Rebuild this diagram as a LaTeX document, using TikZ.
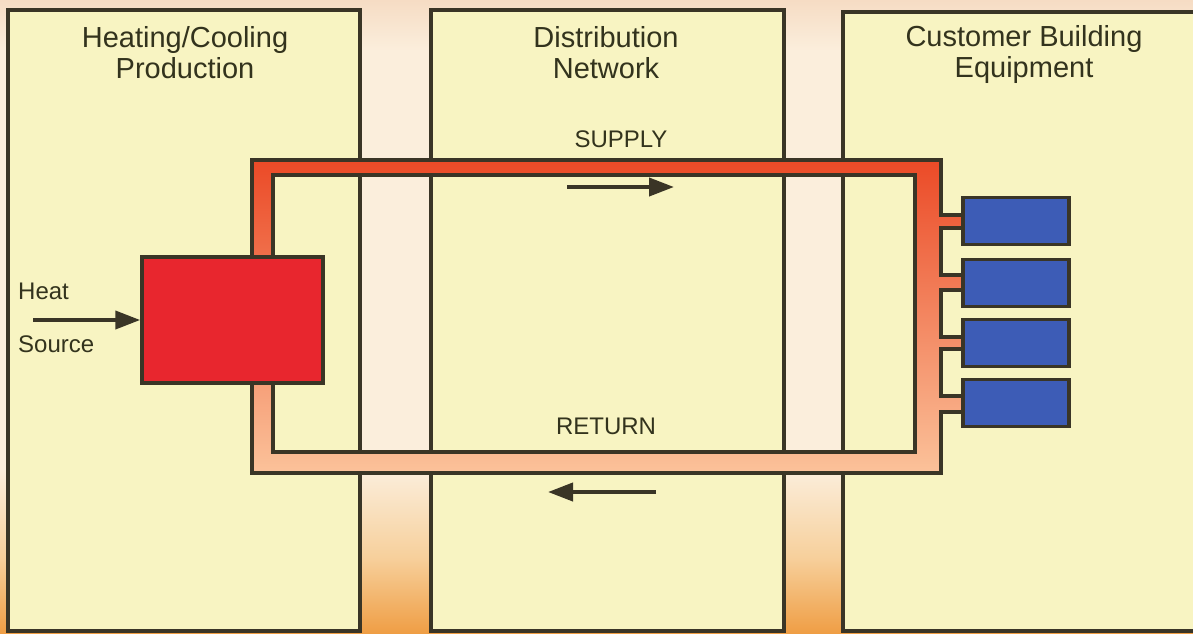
\documentclass[tikz,border=0pt]{standalone}
\usepackage{fontspec}
\setmainfont{Liberation Sans}
\usetikzlibrary{arrows.meta}
\definecolor{panelfill}{HTML}{F8F4C2}
\definecolor{edge}{HTML}{3A3526}
\definecolor{txt}{HTML}{33331D}
\definecolor{gaptop}{HTML}{F6DCC4}
\definecolor{gapmid}{HTML}{FBEEDC}
\definecolor{gaplow}{HTML}{F7D09C}
\definecolor{gapbot}{HTML}{EF9E45}
\definecolor{hotpipe}{HTML}{EB4A27}
\definecolor{coldpipe}{HTML}{FBC29A}
\definecolor{plantred}{HTML}{E8262E}
\definecolor{unitblue}{HTML}{3D5CB6}
\pgfdeclareverticalshading{gapshade}{100bp}{color(0bp)=(gapbot); color(25bp)=(gapbot); color(31bp)=(gaplow); color(38bp)=(gapmid); color(71bp)=(gapmid); color(75bp)=(gaptop); color(100bp)=(gaptop)}
\begin{document}
\begin{tikzpicture}[x=1pt,y=-1pt,
  panel/.style={draw=edge, line width=3.5pt, fill=panelfill},
  title/.style={text=txt, align=center, font=\fontsize{29}{31}\selectfont, inner sep=0pt},
  label/.style={text=txt, font=\fontsize{24}{26}\selectfont, inner sep=0pt},
  plant/.style={draw=edge, line width=3.5pt, fill=plantred, inner sep=0pt, minimum width=181pt, minimum height=126pt},
  unit/.style={draw=edge, line width=3.5pt, fill=unitblue, inner sep=0pt, minimum width=106pt, minimum height=47pt},
  flow/.style={draw=edge, line width=4pt, -{Triangle[length=25pt,width=18pt]}},
  pipeline/.style={draw=edge, line width=3.5pt, line join=miter}]
% background
\shade[shading=gapshade] (0,0) rectangle (1193,633);
\useasboundingbox (0,0) rectangle (1193,633);
% panels
\draw[panel] (8,10) rectangle (360,631);
\draw[panel] (431,10) rectangle (784,631);
\draw[panel] (843,12) rectangle (1210,631);
% titles
\node[title] (t1) at (185,53) {Heating/Cooling\\Production};
\node[title] (t2) at (606,53) {Distribution\\Network};
\node[title] (t3) at (1024,54) {Customer Building\\Equipment};
% pipe loop
\shade[even odd rule, top color=hotpipe, bottom color=coldpipe]
  (252,160) -- (941,160) -- (941,215) -- (963,215) -- (963,228) -- (941,228)
  -- (941,275) -- (963,275) -- (963,290) -- (941,290)
  -- (941,337) -- (963,337) -- (963,349) -- (941,349)
  -- (941,396) -- (963,396) -- (963,412) -- (941,412)
  -- (941,473) -- (252,473) -- cycle
  (273,175) rectangle (915,452);
\draw[pipeline]
  (963,215) -- (941,215) -- (941,160) -- (252,160) -- (252,473) -- (941,473) -- (941,412) -- (963,412)
  (963,228) -- (941,228) -- (941,275) -- (963,275)
  (963,290) -- (941,290) -- (941,337) -- (963,337)
  (963,349) -- (941,349) -- (941,396) -- (963,396);
\draw[pipeline] (273,175) rectangle (915,452);
% plant and units
\node[plant] (src) at (232.5,320) {};
\node[unit] (u1) at (1016,221) {};
\node[unit] (u2) at (1016,283) {};
\node[unit] (u3) at (1016,343) {};
\node[unit] (u4) at (1016,403) {};
% labels
\node[label, anchor=west] (heat) at (18,291) {Heat};
\node[label, anchor=west] (source) at (18,344) {Source};
\node[label] (supply) at (621,139) {SUPPLY};
\node[label] (return) at (606,426) {RETURN};
% arrows
\coordinate (hs) at (33,320);
\draw[flow] (hs) -- (src.west);
\coordinate (s1) at (567,187);
\coordinate (s2) at (674,187);
\draw[flow] (s1) -- (s2);
\coordinate (r1) at (656,492);
\coordinate (r2) at (548,492);
\draw[flow] (r1) -- (r2);
\end{tikzpicture}
\end{document}
